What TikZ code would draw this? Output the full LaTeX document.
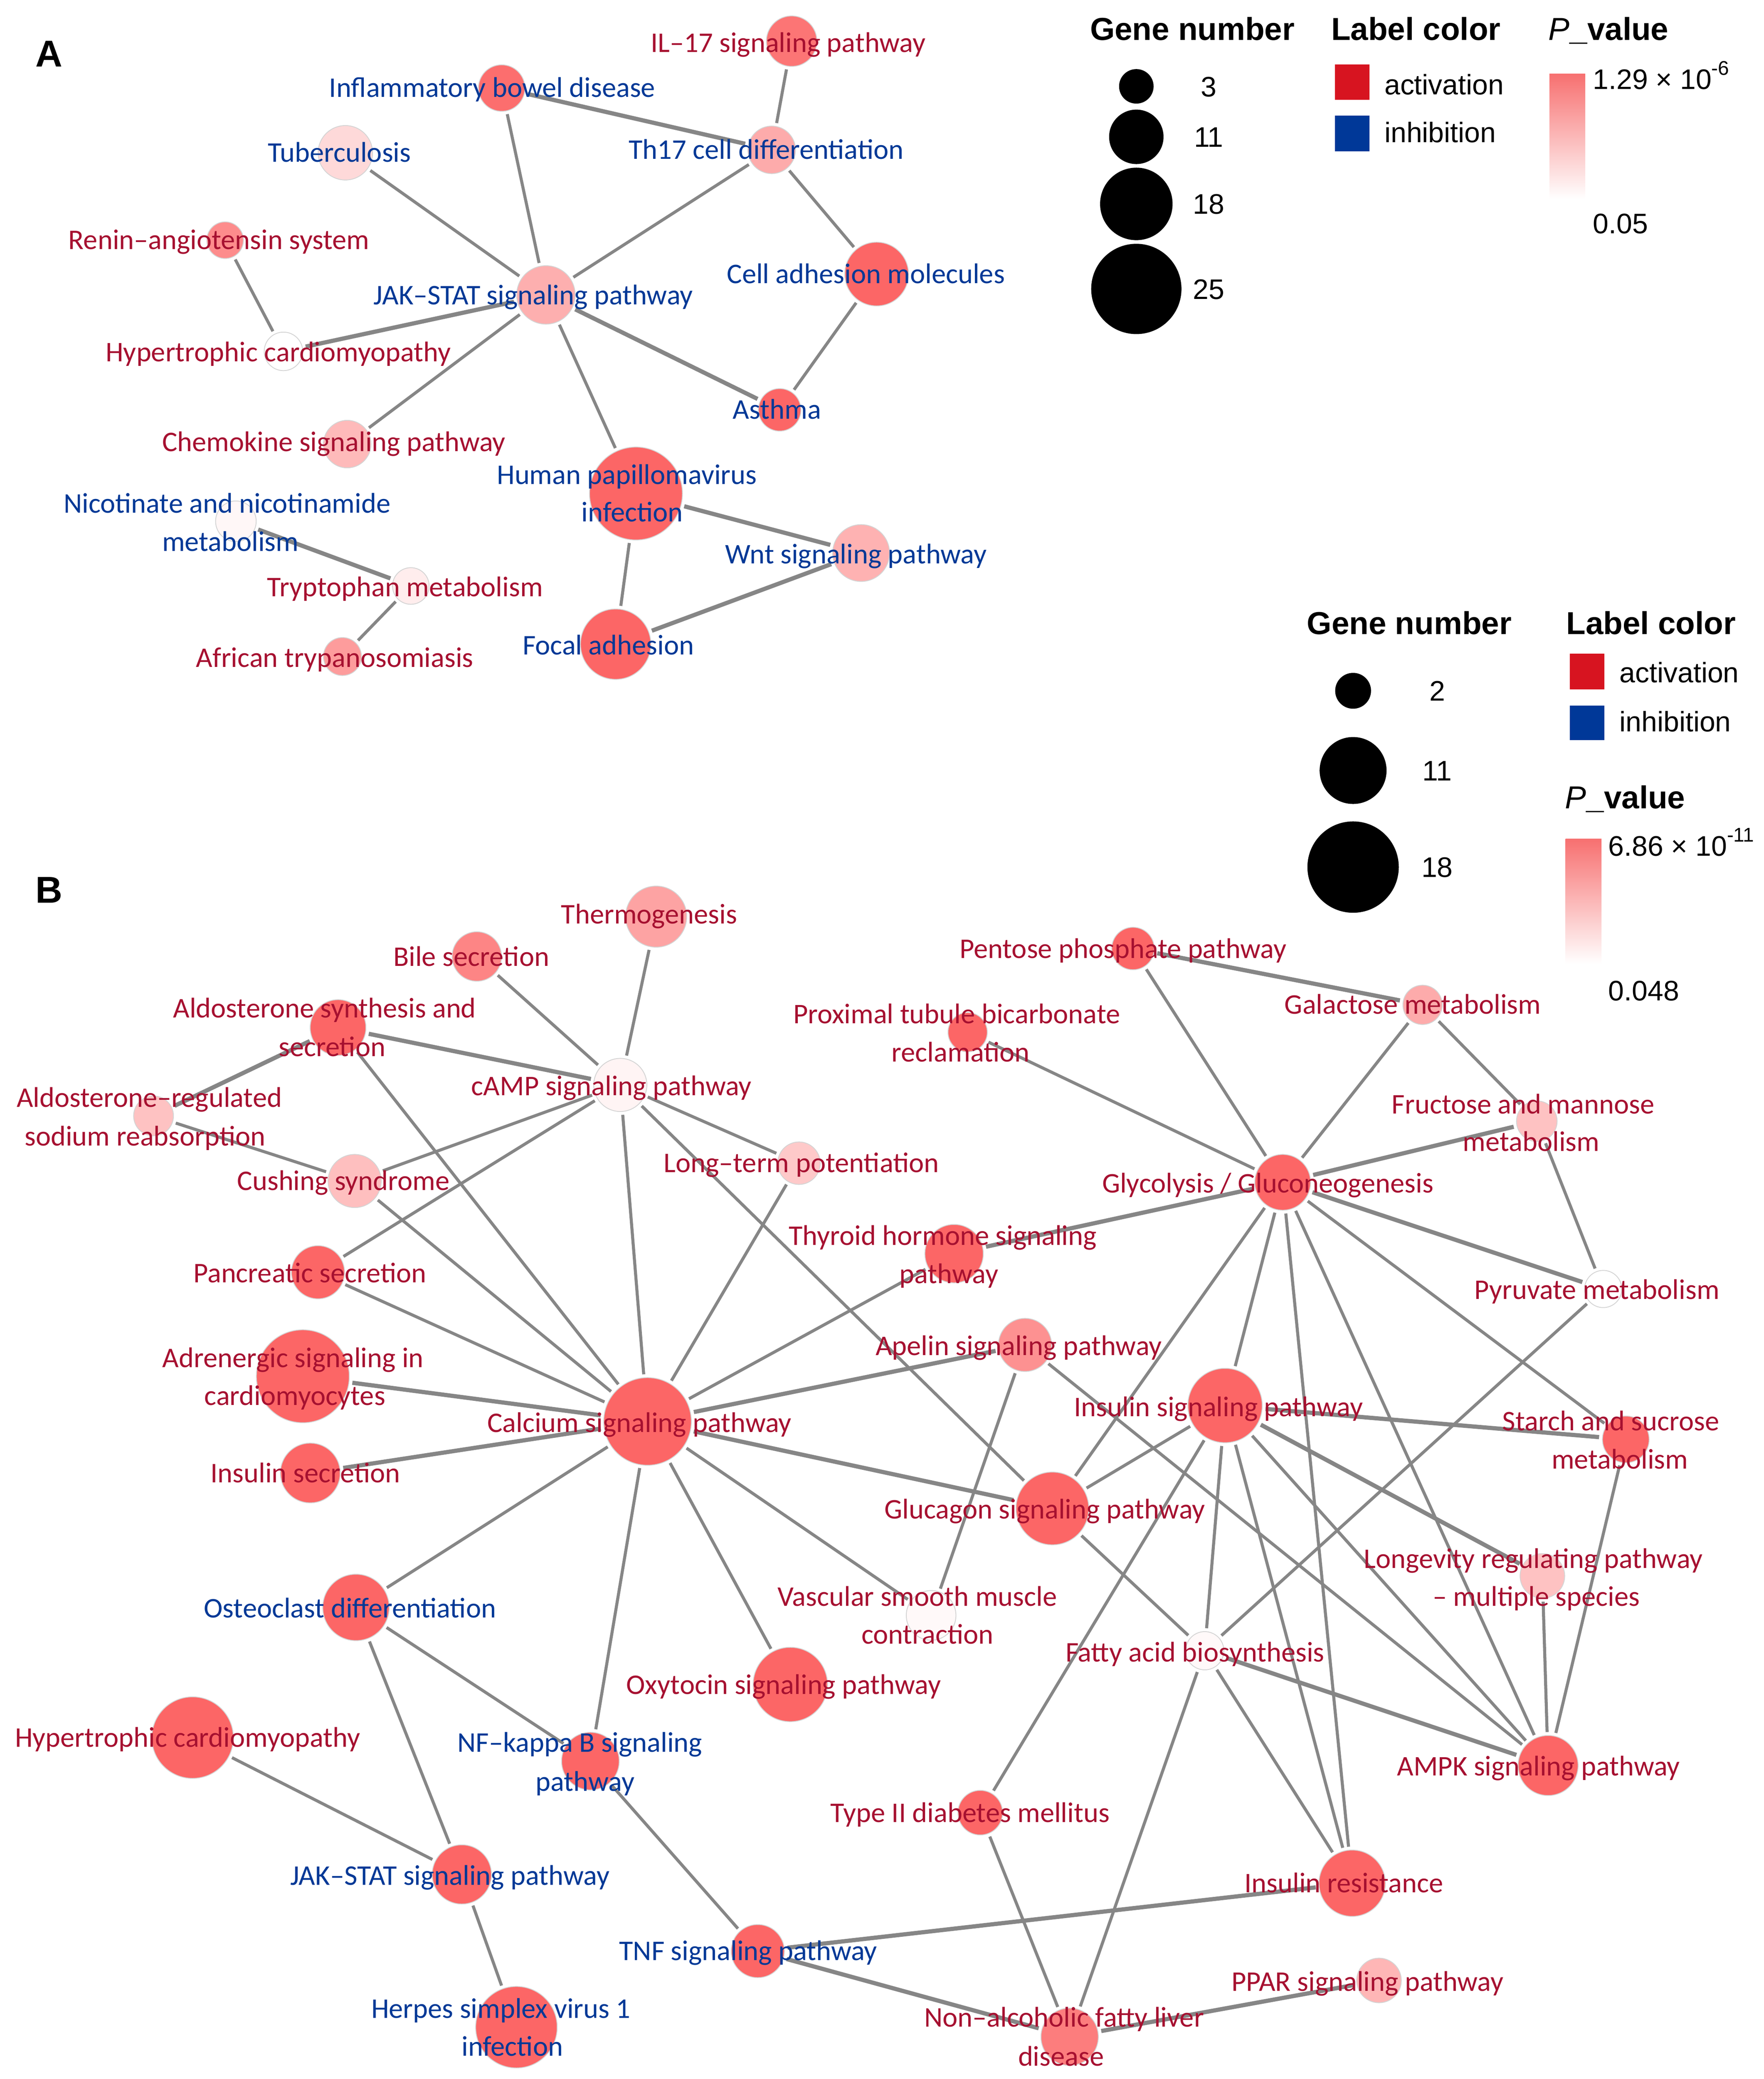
\documentclass[tikz,border=0pt]{standalone}
\usepackage{fontspec}
\setmainfont{Carlito}
\newfontfamily\legfont{Liberation Sans}
\definecolor{nred}{RGB}{252,102,102}
\definecolor{lred}{RGB}{166,16,48}
\definecolor{lblue}{RGB}{0,56,150}
\definecolor{edgegray}{RGB}{134,134,134}
\definecolor{nborder}{RGB}{212,212,212}
\definecolor{actred}{RGB}{215,20,32}
\definecolor{inhblue}{RGB}{0,56,152}
\definecolor{bartop}{RGB}{247,112,112}
\pgfdeclarelayer{edges}
\pgfsetlayers{edges,main}
\tikzset{
  gn/.style={circle, draw=nborder, line width=0.35pt, inner sep=0pt, minimum size=#1*0.04cm},
  legdot/.style={circle, fill=black, inner sep=0pt, minimum size=#1*0.04cm},
  edge/.style={draw=edgegray, line width=1.3pt, shorten <=1.3pt, shorten >=1.3pt},
  tedge/.style={edge, line width=1.8pt},
  lab/.style={anchor=center, inner sep=0pt, text height=7.9pt, text depth=0pt, font=\fontsize{12.2}{14}\selectfont},
  labr/.style={lab, text=lred},
  labb/.style={lab, text=lblue},
  legtitle/.style={inner sep=0pt, text height=9.7pt, text depth=0pt, font=\legfont\bfseries\fontsize{13.6}{16}\selectfont},
  legtext/.style={inner sep=0pt, text height=8.7pt, text depth=0pt, font=\legfont\fontsize{12.1}{14}\selectfont},
  panel/.style={inner sep=0pt, text height=11.5pt, text depth=0pt, font=\legfont\bfseries\fontsize{16}{18}\selectfont}
}
\begin{document}
\begin{tikzpicture}[x=0.02cm, y=-0.02cm]
\useasboundingbox (0,0) rectangle (1328,1565);

% ================= Panel A =================
\node[panel] (pA) at (36.8,40.2) {A};
\node[gn=19,   fill=nred!90!white]  (a1)  at (596,31) {};
\node[gn=17.5, fill=nred!95!white]  (a2)  at (377.7,66.3) {};
\node[gn=17.9, fill=nred!55!white]  (a3)  at (581,112.8) {};
\node[gn=20.5, fill=nred!25!white]  (a4)  at (260,115) {};
\node[gn=13.8, fill=nred!75!white]  (a5)  at (169.5,180.8) {};
\node[gn=22,   fill=nred!52!white]  (a6)  at (411,222) {};
\node[gn=24,   fill=nred]           (a7)  at (660,206.3) {};
\node[gn=14.5, fill=white]          (a8)  at (213.4,264.5) {};
\node[gn=16,   fill=nred]           (a9)  at (587,308.5) {};
\node[gn=17.9, fill=nred!45!white]  (a10) at (261.4,334.3) {};
\node[gn=35,   fill=nred]           (a11) at (478.8,371.5) {};
\node[gn=15.3, fill=nred!5!white]   (a12) at (177.6,392.4) {};
\node[gn=13.8, fill=nred!12!white]  (a13) at (309.3,441.1) {};
\node[gn=21.4, fill=nred!50!white]  (a14) at (648.3,416.3) {};
\node[gn=14.3, fill=nred!65!white]  (a15) at (257.8,494.2) {};
\node[gn=26.5, fill=nred]           (a16) at (463.5,484.9) {};

\begin{pgfonlayer}{edges}
\foreach \u/\v in {a1/a3, a2/a6, a4/a6, a3/a6, a3/a7, a5/a8, a6/a10, a6/a11, a7/a9, a11/a16, a13/a15}
  \draw[edge] (\u) -- (\v);
\foreach \u/\v in {a2/a3, a6/a8, a6/a9, a11/a14, a14/a16, a12/a13}
  \draw[tedge] (\u) -- (\v);
\end{pgfonlayer}

\node[labr] (la1)  at (593.4,32.2) {IL–17 signaling pathway};
\node[labb] (la2)  at (370.6,66.3) {Inflammatory bowel disease};
\node[labb] (la3)  at (576.8,112.8) {Th17 cell differentiation};
\node[labb] (la4)  at (255.5,115.1) {Tuberculosis};
\node[labr] (la5)  at (164.9,180.8) {Renin–angiotensin system};
\node[labb] (la6)  at (401.5,222.2) {JAK–STAT signaling pathway};
\node[labb] (la7)  at (651.9,206.3) {Cell adhesion molecules};
\node[labr] (la8)  at (209.5,265.3) {Hypertrophic cardiomyopathy};
\node[labb] (la9)  at (585,308.5) {Asthma};
\node[labr] (la10) at (251.4,332.7) {Chemokine signaling pathway};
\node[labb] (la11a) at (472,357.5) {Human papillomavirus};
\node[labb] (la11b) at (476,385.7) {infection};
\node[labb] (la12a) at (171,379.1) {Nicotinate and nicotinamide};
\node[labb] (la12b) at (173.5,408) {metabolism};
\node[labr] (la13) at (305,442.1) {Tryptophan metabolism};
\node[labb] (la14) at (644.5,417.2) {Wnt signaling pathway};
\node[labr] (la15) at (252,495.2) {African trypanosomiasis};
\node[labb] (la16) at (458,485.9) {Focal adhesion};

% Legend A
\node[legtitle] (gtA) at (897.7,21.7) {Gene number};
\node[legdot=13]   (gA1) at (855.5,65) {};
\node[legdot=20.5] (gA2) at (855.5,103) {};
\node[legdot=27.3] (gA3) at (855.5,153.5) {};
\node[legdot=34]   (gA4) at (855.5,217.5) {};
\node[legtext] (gnA1) at (910,65) {3};
\node[legtext] (gnA2) at (910,103) {11};
\node[legtext] (gnA3) at (910,153.5) {18};
\node[legtext] (gnA4) at (910,217.5) {25};
\node[legtitle] (ltA) at (1066,21.7) {Label color};
\fill[actred] (1005,48.5) rectangle (1031,75);
\fill[inhblue] (1005,87) rectangle (1031,114);
\node[legtext, anchor=west] (actA) at (1042,63.6) {activation};
\node[legtext, anchor=west] (inhA) at (1042,99.6) {inhibition};
\node[legtitle, anchor=west] (pvA) at (1165.5,21.7) {{\mdseries\itshape P}\_value};
\shade[top color=bartop, bottom color=white] (1166.5,55.5) rectangle (1193.5,150);
\node[legtext, anchor=west] (pmaxA) at (1199,59.4) {1.29 × 10\raisebox{6pt}{\fontsize{8.5}{9}\selectfont -6}};
\node[legtext, anchor=west] (pminA) at (1199,168) {0.05};

% ================= Panel B =================
\node[panel] (pB) at (36.8,669.7) {B};
\node[gn=23,   fill=nred!60!white] (b1)  at (494,690) {};
\node[gn=18.6, fill=nred!80!white] (b2)  at (359,720) {};
\node[gn=16,   fill=nred]          (b3)  at (853,714) {};
\node[gn=21,   fill=nred]          (b4)  at (254.5,773.5) {};
\node[gn=15,   fill=nred!40!white] (b5)  at (115.6,840) {};
\node[gn=14.8, fill=nred]          (b6)  at (728.5,777) {};
\node[gn=14.8, fill=nred!55!white] (b7)  at (1071,756.4) {};
\node[gn=20,   fill=nred!7!white]  (b8)  at (467,816.7) {};
\node[gn=15.3, fill=nred!40!white] (b9)  at (1157,844) {};
\node[gn=20,   fill=nred!42!white] (b10) at (267,889) {};
\node[gn=16,   fill=nred!35!white] (b11) at (601.5,875.6) {};
\node[gn=21,   fill=nred]          (b12) at (965.7,890) {};
\node[gn=22,   fill=nred]          (b13) at (718.3,943.7) {};
\node[gn=20,   fill=nred]          (b14) at (239.4,957.7) {};
\node[gn=14,   fill=white]         (b15) at (1207,970.3) {};
\node[gn=20,   fill=nred!72!white] (b16) at (771.7,1012.4) {};
\node[gn=35,   fill=nred]          (b17) at (228,1036) {};
\node[gn=28,   fill=nred]          (b18) at (922.3,1058) {};
\node[gn=33,   fill=nred]          (b19) at (487.5,1070) {};
\node[gn=17.6, fill=nred]          (b20) at (1224,1083.5) {};
\node[gn=22.5, fill=nred]          (b21) at (233.6,1108.8) {};
\node[gn=27.4, fill=nred]          (b22) at (792.3,1135.5) {};
\node[gn=16.8, fill=nred!40!white] (b23) at (1161.2,1186.3) {};
\node[gn=18.7, fill=nred!4!white]  (b24) at (701,1216) {};
\node[gn=25,   fill=nred]          (b25) at (268,1210) {};
\node[gn=14.4, fill=nred!4!white]  (b26) at (907,1242.6) {};
\node[gn=28,   fill=nred]          (b27) at (595,1268) {};
\node[gn=30.7, fill=nred]          (b28) at (145,1308) {};
\node[gn=21.7, fill=nred]          (b29) at (444.5,1325.7) {};
\node[gn=22.6, fill=nred]          (b30) at (1165.5,1329) {};
\node[gn=16.8, fill=nred]          (b31) at (738,1364.5) {};
\node[gn=22.3, fill=nred]          (b32) at (347.7,1411) {};
\node[gn=25,   fill=nred]          (b33) at (1018,1417.6) {};
\node[gn=20,   fill=nred]          (b34) at (570.5,1468.7) {};
\node[gn=30.7, fill=nred]          (b35) at (388.8,1526) {};
\node[gn=16.8, fill=nred!48!white] (b36) at (1038.2,1490.8) {};
\node[gn=21.6, fill=nred!85!white] (b37) at (805.3,1533.2) {};

\begin{pgfonlayer}{edges}
\foreach \u/\v in {b8/b1, b8/b2, b8/b10, b8/b14, b8/b11, b8/b19, b8/b22,
  b4/b19, b5/b10, b19/b10, b19/b14, b19/b11, b19/b13, b19/b24, b19/b27, b19/b29, b19/b25,
  b12/b3, b12/b6, b12/b7, b12/b20, b12/b22, b12/b18, b12/b33, b12/b30,
  b7/b9, b9/b15, b15/b26, b16/b24, b16/b30,
  b18/b22, b18/b31, b18/b26, b18/b33, b18/b30, b20/b30, b23/b30,
  b22/b26, b26/b33, b26/b37, b31/b37, b29/b34,
  b25/b29, b25/b32, b28/b32, b32/b35}
  \draw[edge] (\u) -- (\v);
\foreach \u/\v in {b8/b4, b4/b5, b17/b19, b21/b19, b19/b16, b19/b22,
  b3/b7, b9/b12, b13/b12, b12/b15, b18/b20, b18/b23, b26/b30,
  b33/b34, b34/b37, b37/b36}
  \draw[tedge] (\u) -- (\v);
\end{pgfonlayer}

\node[labr] (lb1)  at (488.7,688.5) {Thermogenesis};
\node[labr] (lb2)  at (354.8,720.2) {Bile secretion};
\node[labr] (lb3)  at (845.5,714.3) {Pentose phosphate pathway};
\node[labr] (lb4a) at (244.4,759.2) {Aldosterone synthesis and};
\node[labr] (lb4b) at (250,788.1) {secretion};
\node[labr] (lb5a) at (112.4,826.5) {Aldosterone–regulated};
\node[labr] (lb5b) at (109.2,855.4) {sodium reabsorption};
\node[labr] (lb6a) at (720.3,763.4) {Proximal tubule bicarbonate};
\node[labr] (lb6b) at (723.2,792.3) {reclamation};
\node[labr] (lb7)  at (1063.6,756.4) {Galactose metabolism};
\node[labr] (lb8)  at (460.4,817.5) {cAMP signaling pathway};
\node[labr] (lb9a) at (1146.7,831.5) {Fructose and mannose};
\node[labr] (lb9b) at (1152.8,859.6) {metabolism};
\node[labr] (lb10) at (258.6,889) {Cushing syndrome};
\node[labr] (lb11) at (603.3,875.6) {Long–term potentiation};
\node[labr] (lb12) at (954.5,891) {Glycolysis / Gluconeogenesis};
\node[labr] (lb13a) at (709.8,930.2) {Thyroid hormone signaling};
\node[labr] (lb13b) at (714.4,959.1) {pathway};
\node[labr] (lb14) at (233.3,958.6) {Pancreatic secretion};
\node[labr] (lb15) at (1202.3,970.9) {Pyruvate metabolism};
\node[labr] (lb16) at (767,1013.2) {Apelin signaling pathway};
\node[labr] (lb17a) at (220.6,1022.2) {Adrenergic signaling in};
\node[labr] (lb17b) at (222,1050.8) {cardiomyocytes};
\node[labr] (lb18) at (917.4,1059.2) {Insulin signaling pathway};
\node[labr] (lb19) at (481.4,1071.3) {Calcium signaling pathway};
\node[labr] (lb20a) at (1212.7,1069.9) {Starch and sucrose};
\node[labr] (lb20b) at (1219.5,1098.8) {metabolism};
\node[labr] (lb21) at (229.9,1109) {Insulin secretion};
\node[labr] (lb22) at (786.6,1136.3) {Glucagon signaling pathway};
\node[labr] (lb23a) at (1154.4,1173.6) {Longevity regulating pathway};
\node[labr] (lb23b) at (1156.6,1201.9) {– multiple species};
\node[labr] (lb24a) at (690.7,1201.9) {Vascular smooth muscle};
\node[labr] (lb24b) at (698.2,1230.5) {contraction};
\node[labb] (lb25) at (263.5,1210.7) {Osteoclast differentiation};
\node[labr] (lb26) at (899.7,1244) {Fatty acid biosynthesis};
\node[labr] (lb27) at (590,1268.3) {Oxytocin signaling pathway};
\node[labr] (lb28) at (141.2,1308.2) {Hypertrophic cardiomyopathy};
\node[labb] (lb29a) at (436.6,1311.9) {NF–kappa B signaling};
\node[labb] (lb29b) at (440.5,1341.4) {pathway};
\node[labr] (lb30) at (1158.3,1329.6) {AMPK signaling pathway};
\node[labr] (lb31) at (730.4,1364.8) {Type II diabetes mellitus};
\node[labb] (lb32) at (338.7,1411.9) {JAK–STAT signaling pathway};
\node[labr] (lb33) at (1011.8,1417.6) {Insulin resistance};
\node[labb] (lb34) at (563.3,1468.7) {TNF signaling pathway};
\node[labb] (lb35a) at (377.1,1512.2) {Herpes simplex virus 1};
\node[labb] (lb35b) at (385.7,1540.7) {infection};
\node[labr] (lb36) at (1029.6,1491.8) {PPAR signaling pathway};
\node[labr] (lb37a) at (801.2,1518.8) {Non–alcoholic fatty liver};
\node[labr] (lb37b) at (798.8,1548.1) {disease};

% Legend B
\node[legtitle] (gtB) at (1061,469) {Gene number};
\node[legdot=13.5] (gB1) at (1018.7,520) {};
\node[legdot=25.2] (gB2) at (1018.7,580) {};
\node[legdot=34.4] (gB3) at (1018.7,652.7) {};
\node[legtext] (gnB1) at (1082,520) {2};
\node[legtext] (gnB2) at (1082,580) {11};
\node[legtext] (gnB3) at (1082,652.7) {18};
\node[legtitle] (ltB) at (1243,469) {Label color};
\fill[actred] (1182,492) rectangle (1208,519);
\fill[inhblue] (1182,531) rectangle (1208,557);
\node[legtext, anchor=west] (actB) at (1219,506) {activation};
\node[legtext, anchor=west] (inhB) at (1219,543) {inhibition};
\node[legtitle, anchor=west] (pvB) at (1178,600) {{\mdseries\itshape P}\_value};
\shade[top color=bartop, bottom color=white] (1178.6,631.6) rectangle (1205.7,725.6);
\node[legtext, anchor=west] (pmaxB) at (1210.6,636.7) {6.86 × 10\raisebox{6pt}{\fontsize{8.5}{9}\selectfont -11}};
\node[legtext, anchor=west] (pminB) at (1210.6,745.5) {0.048};
\end{tikzpicture}
\end{document}
